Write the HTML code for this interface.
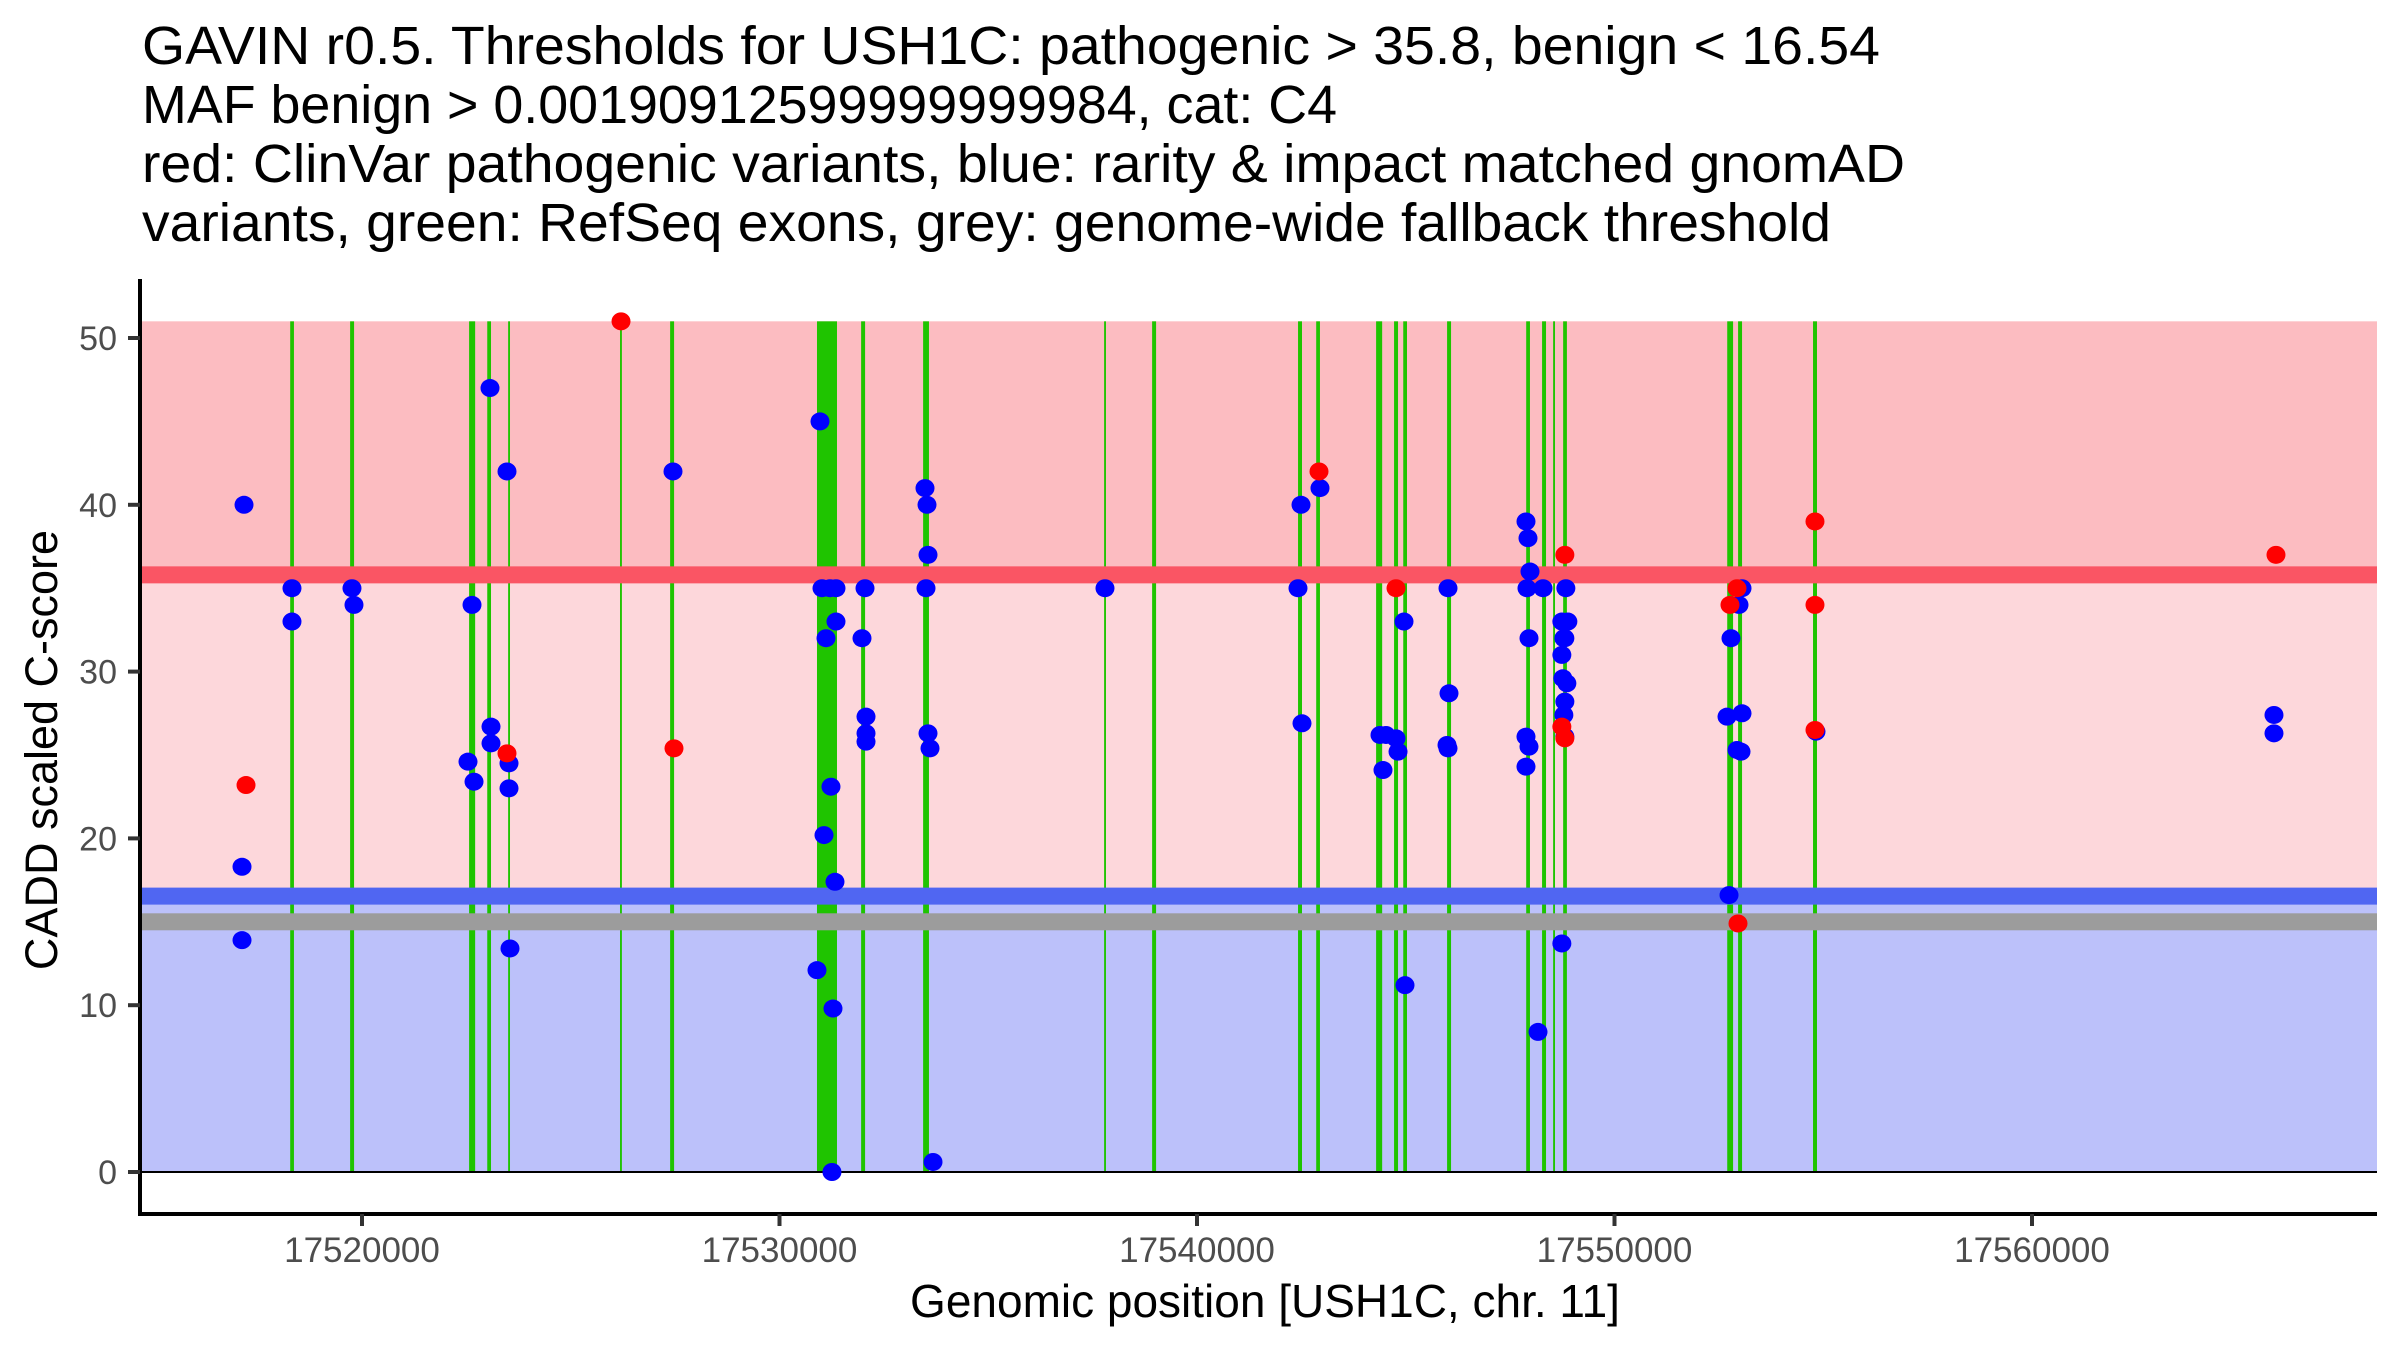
<!DOCTYPE html>
<html><head><meta charset="utf-8"><style>
html,body{margin:0;padding:0;background:#fff;}
svg{display:block;font-family:"Liberation Sans",Arial,sans-serif;}
</style></head><body>
<svg id="chart" width="2400" height="1350" viewBox="0 0 2400 1350" xmlns="http://www.w3.org/2000/svg">
<g font-size="54" fill="#000">
<text x="142" y="64" textLength="1738" lengthAdjust="spacingAndGlyphs">GAVIN r0.5. Thresholds for USH1C: pathogenic &gt; 35.8, benign &lt; 16.54</text>
<text x="142" y="123" textLength="1195" lengthAdjust="spacingAndGlyphs">MAF benign &gt; 0.00190912599999999984, cat: C4</text>
<text x="142" y="182" textLength="1763" lengthAdjust="spacingAndGlyphs">red: ClinVar pathogenic variants, blue: rarity &amp; impact matched gnomAD</text>
<text x="142" y="241" textLength="1689" lengthAdjust="spacingAndGlyphs">variants, green: RefSeq exons, grey: genome-wide fallback threshold</text>
</g>
<g id="bands"></g>
<g id="exons"></g>
<g id="lines"></g>
<g id="points"></g>
<g id="axes"></g>
<text x="42" y="750" font-size="45" text-anchor="middle" transform="rotate(-90 42 750)" dy="15">CADD scaled C-score</text>
<text x="1265" y="1317" font-size="46" text-anchor="middle">Genomic position [USH1C, chr. 11]</text>
</svg>
<script>
const xTicks = [17520000, 17530000, 17540000, 17550000, 17560000];
const yTicks = [0, 10, 20, 30, 40, 50];
const pathogenicThreshold = 35.8;
const benignThreshold = 16.54;
const fallbackThreshold = 15;
const bandTop = 51;
const exonStarts = [17518280,17519715,17522565,17523000,17523500,17526180,17527380,17530898,17531955,17533440,17537775,17538925,17542420,17542855,17544290,17544720,17544940,17545990,17547885,17548265,17548530,17548770,17552700,17552960,17554755];
const exonEnds   = [17518370,17519810,17522710,17523090,17523545,17526225,17527475,17531377,17532050,17533580,17537820,17539020,17542515,17542945,17544435,17544815,17545030,17546085,17547975,17548360,17548575,17548860,17552840,17553055,17554850];
const clinvarPos = [17517222,17523473,17526204,17527473,17542922,17544767,17548811,17548739,17548811,17552958,17552766,17552934,17554802,17554802,17554802,17565844];
const clinvarScore = [23.2,25.1,51.0,25.4,42.0,35.0,37.0,26.7,26.0,14.9,34.0,35.0,39.0,34.0,26.5,37.0];
const gnomadPos = [17517174,17517126,17517126,17518323,17518323,17519760,17519808,17522635,17522539,17522683,17523066,17523090,17523090,17523473,17523521,17523521,17523545,17527449,
17530970,17531018,17531209,17531353,17531353,17531114,17531233,17531066,17531329,17530898,17531281,17531257,
17532048,17531976,17532072,17532072,17532072,17533485,17533533,17533557,17533509,17533557,17533605,17533677,17537796,
17542419,17542946,17542491,17542515,17544383,17544527,17544767,17544815,17544455,17544958,17544982,17546012,17546036,17545988,17546012,
17547880,17547928,17547976,17547904,17548288,17547952,17547880,17547952,17547880,17548168,
17548835,17548739,17548883,17548787,17548811,17548739,17548763,17548859,17548811,17548787,17548811,17548739,
17553054,17552982,17552790,17552695,17553054,17552934,17553030,17552743,17554826,17565796,17565796];
const gnomadScore = [40.0,18.3,13.9,35.0,33.0,35.0,34.0,34.0,24.6,23.4,47.0,26.7,25.7,42.0,24.5,23.0,13.4,42.0,
45.0,35.0,35.0,35.0,33.0,32.0,23.1,20.2,17.4,12.1,9.8,0.0,
35.0,32.0,27.3,26.3,25.8,41.0,40.0,37.0,35.0,26.3,25.4,0.6,35.0,
35.0,41.0,40.0,26.9,26.2,26.2,26.0,25.2,24.1,33.0,11.2,35.0,28.7,25.6,25.4,
39.0,38.0,36.0,35.0,35.0,32.0,26.1,25.5,24.3,8.4,
35.0,33.0,33.0,32.0,32.0,31.0,29.6,29.3,28.2,27.4,26.1,13.7,
35.0,34.0,32.0,27.3,27.5,25.3,25.2,16.6,26.4,27.4,26.3];

const NS='http://www.w3.org/2000/svg';
const X0=140, X1=2377;
const YBOT=1214, YTOP=279;
function xs(v){return 362+(v-17520000)*0.04175;}
function ys(v){return 1172-v*16.68;}
function mk(tag, parent, attrs){const e=document.createElementNS(NS,tag);for(const k in attrs)e.setAttribute(k,attrs[k]);parent.appendChild(e);return e;}

const bands=document.getElementById('bands');
let r;
r=mk('rect',bands,{x:X0+2,y:ys(bandTop),width:X1-X0-2,height:ys(pathogenicThreshold)-ys(bandTop),fill:'#FCBCC1'});


r=mk('rect',bands,{x:X0+2,y:ys(pathogenicThreshold),width:X1-X0-2,height:ys(benignThreshold)-ys(pathogenicThreshold),fill:'#FDD7DB'});


r=mk('rect',bands,{x:X0+2,y:ys(benignThreshold),width:X1-X0-2,height:ys(0)-ys(benignThreshold),fill:'#BCC1FA'});



const exG=document.getElementById('exons');
for(let i=0;i<exonStarts.length;i++){
  const a=xs(exonStarts[i]), b=xs(exonEnds[i]);
  const e=mk('rect',exG,{x:a,y:ys(bandTop),width:Math.max(b-a,1.5),height:ys(0)-ys(bandTop),fill:'#1FC400'});
  
  
}

const lg=document.getElementById('lines');
const thr=[[pathogenicThreshold,'#FA5564','pathogenic-threshold-line'],[benignThreshold,'#5066F2','benign-threshold-line'],[fallbackThreshold,'#9C9C9C','fallback-threshold-line']];
thr.forEach(t=>{
  const l=mk('rect',lg,{x:X0+2,y:ys(t[0])-8.5,width:X1-X0-2,height:17,fill:t[1]});
  
  
});
const zl=mk('line',lg,{x1:X0,x2:X1,y1:ys(0),y2:ys(0),stroke:'#000','stroke-width':2});



const pg=document.getElementById('points');
for(let i=0;i<gnomadPos.length;i++){
  const c=mk('ellipse',pg,{cx:xs(gnomadPos[i]),cy:ys(gnomadScore[i]),rx:9.5,ry:9,fill:'#0000FF'});
  
  
}
for(let i=0;i<clinvarPos.length;i++){
  const c=mk('ellipse',pg,{cx:xs(clinvarPos[i]),cy:ys(clinvarScore[i]),rx:9.5,ry:9,fill:'#FF0000'});
  
  
}

const ax=document.getElementById('axes');
const ya=mk('line',ax,{x1:X0,x2:X0,y1:YTOP,y2:YBOT+2,stroke:'#000','stroke-width':4});


const xa=mk('line',ax,{x1:X0-2,x2:X1,y1:YBOT,y2:YBOT,stroke:'#000','stroke-width':4});


yTicks.forEach(v=>{
  const t=mk('line',ax,{x1:128,x2:X0,y1:ys(v),y2:ys(v),stroke:'#333','stroke-width':4});
  
  
  const tx=mk('text',ax,{x:117,y:ys(v)+12,'font-size':34,'text-anchor':'end',fill:'#4d4d4d'});
  tx.textContent=v;
  
  
});
xTicks.forEach(v=>{
  const t=mk('line',ax,{x1:xs(v),x2:xs(v),y1:YBOT,y2:YBOT+12,stroke:'#333','stroke-width':4});
  
  
  const tx=mk('text',ax,{x:xs(v),y:1262,'font-size':35,'text-anchor':'middle',fill:'#4d4d4d'});
  tx.textContent=v;
  
  
});
</script>
</body></html>
